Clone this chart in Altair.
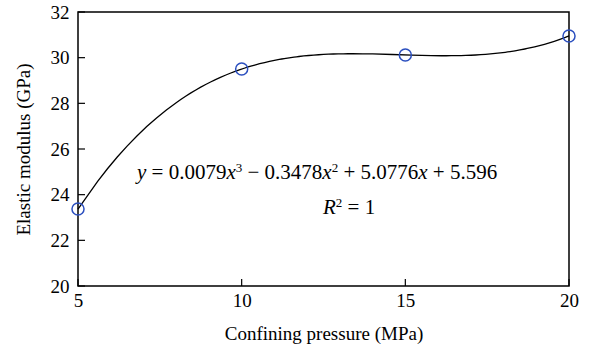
import altair as alt
import pandas as pd

pressure = [5, 10, 15, 20]
modulus = [23.37, 29.50, 30.12, 30.95]
y_ticks = [20, 22, 24, 26, 28, 30, 32]
x_ticks = [5, 10, 15, 20]

df = pd.DataFrame({"p": pressure, "e": modulus})
yt = pd.DataFrame({"t": y_ticks})
xt = pd.DataFrame({"t": x_ticks})

FONT = "Liberation Serif"
xs = alt.Scale(domain=[5, 20], nice=False, zero=False)
ys = alt.Scale(domain=[20, 32], nice=False, zero=False)

base = alt.Chart(df)

curve = base.transform_regression(
    "p", "e", method="poly", order=3, extent=[5, 20]
).mark_line(color="black", strokeWidth=1.3).encode(
    x=alt.X("p:Q", scale=xs, axis=alt.Axis(
        title="Confining pressure (MPa)", values=x_ticks, tickSize=0,
        labelPadding=5, titlePadding=14, domain=False, grid=False,
        labelFontSize=19, titleFontSize=19, labelFont=FONT, titleFont=FONT,
        labelColor="black", titleColor="black", titleFontWeight="normal",
        labelFlush=False)),
    y=alt.Y("e:Q", scale=ys, axis=alt.Axis(
        title="Elastic modulus (GPa)", values=y_ticks, tickSize=0,
        labelPadding=9, titlePadding=17, domain=False, grid=False,
        labelFontSize=19, titleFontSize=19, labelFont=FONT, titleFont=FONT,
        labelColor="black", titleColor="black", titleFontWeight="normal")),
)

points = base.mark_point(shape="circle", size=145, filled=False,
                         color="#2b4fbf", strokeWidth=1.5, opacity=1).encode(
    x=alt.X("p:Q", scale=xs), y=alt.Y("e:Q", scale=ys))

ytick_marks = alt.Chart(yt).mark_rule(color="black", strokeWidth=1.2).encode(
    y=alt.Y("t:Q", scale=ys), x=alt.value(0), x2=alt.value(7))
xtick_marks = alt.Chart(xt).mark_rule(color="black", strokeWidth=1.2).encode(
    x=alt.X("t:Q", scale=xs), y=alt.value(274), y2=alt.value(267))

# Rich-text annotation built from segments (Times-metric widths, per em)
W = {"0": .5, "1": .5, "2": .5, "3": .5, "4": .5, "5": .5, "6": .5, "7": .5,
     "8": .5, "9": .5, " ": .25, ".": .25, "=": .564, "+": .564, "\u2212": .564,
     "x": .444, "y": .444, "R": .611}
FS = 21
SUP = 13


def rich(segments, x0, y0):
    layers = []
    cx = x0
    one = pd.DataFrame({"a": [0]})
    for txt, style in segments:
        size = SUP if style == "sup" else FS
        dy = -7 if style == "sup" else 0
        body = txt.lstrip(" ")
        cx += (len(txt) - len(body)) * W[" "] * size
        mt = alt.Chart(one).mark_text(
            text=body, font=FONT, fontSize=size,
            fontStyle="italic" if style == "it" else "normal",
            align="left", baseline="alphabetic", color="black").encode(
            x=alt.value(cx), y=alt.value(y0 + dy))
        layers.append(mt)
        cx += sum(W.get(c, .5) for c in body) * size
    return layers


eq = rich([("y", "it"), (" = 0.0079", "n"), ("x", "it"), ("3", "sup"),
           (" \u2212 0.3478", "n"), ("x", "it"), ("2", "sup"),
           (" + 5.0776", "n"), ("x", "it"), (" + 5.596", "n")], 59, 167)
r2 = rich([("R", "it"), ("2", "sup"), (" = 1", "n")], 245, 202)

chart = alt.layer(curve, points, ytick_marks, xtick_marks, *eq, *r2).properties(
    width=491, height=274,
    autosize=alt.AutoSizeParams(type="none"),
    padding={"left": 78, "top": 12, "right": 41, "bottom": 63},
    background="white",
).configure_view(stroke="black", strokeWidth=1.5)

chart.save("out.html", embed_options={"renderer": "svg", "actions": False})
